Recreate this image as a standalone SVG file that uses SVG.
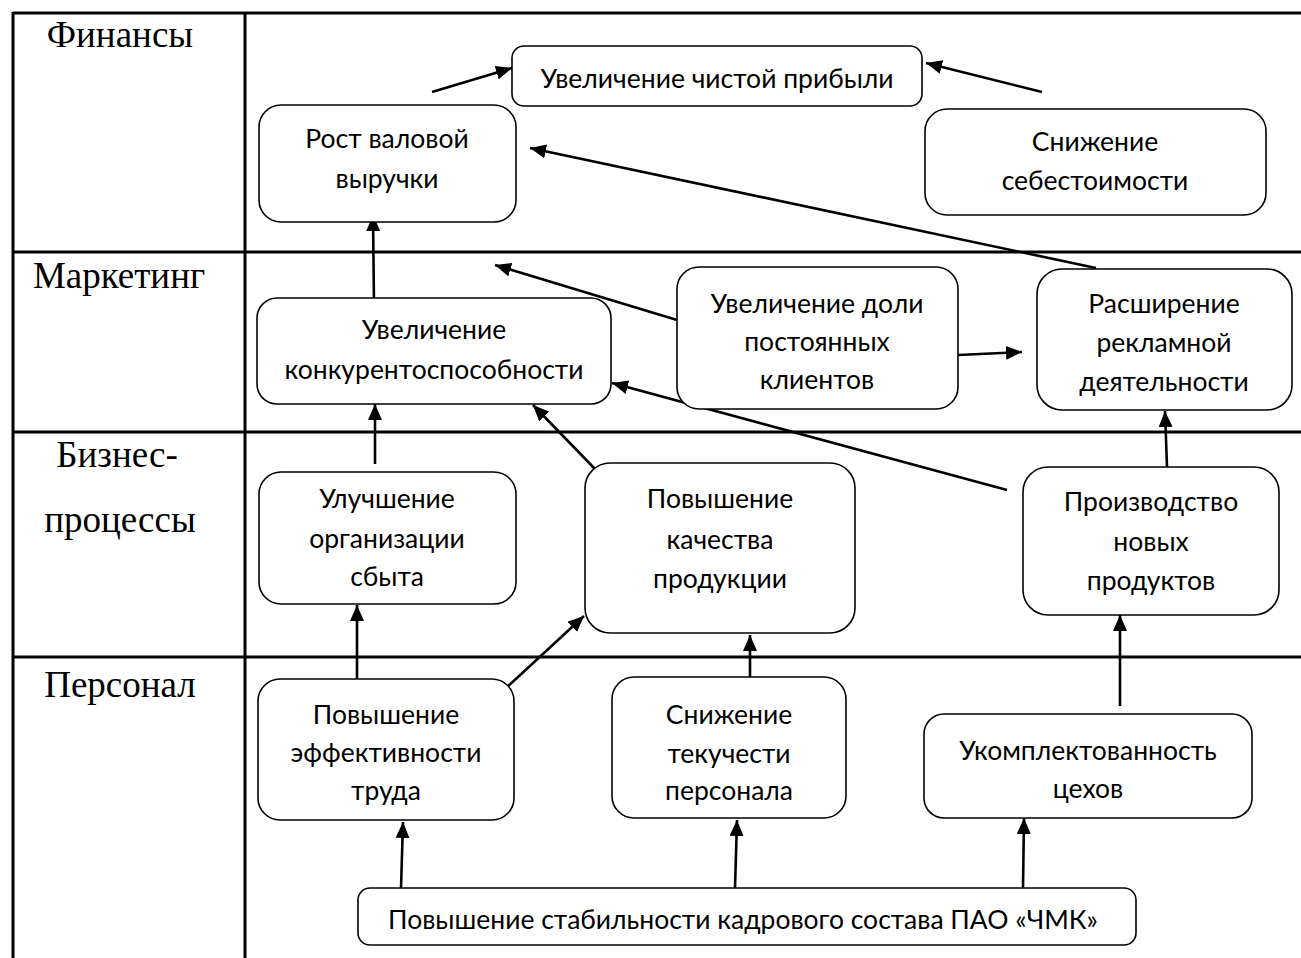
<svg xmlns="http://www.w3.org/2000/svg" width="1301" height="958" viewBox="0 0 1301 958">
<defs>
<marker id="ah" markerUnits="userSpaceOnUse" markerWidth="18" markerHeight="14" refX="16" refY="7" orient="auto">
<path d="M0,0 L16,7 L0,14 Z" fill="#000"/>
</marker>
</defs>
<style>
.grid{stroke:#000;stroke-width:3;fill:none}
.box{fill:#fff;stroke:#000;stroke-width:1.6}
.t{font-family:Lato,"Open Sans",sans-serif;font-size:26.5px;fill:#000;text-anchor:middle}
.lbl{font-family:"Liberation Serif",serif;font-size:37px;fill:#000;text-anchor:middle}
.c{stroke:#000;stroke-width:2.6;fill:none;marker-end:url(#ah)}
</style>
<rect width="1301" height="958" fill="#fff"/>
<g id="table">
<line class="grid" x1="13" y1="13" x2="1301" y2="13"/>
<line class="grid" x1="13" y1="12" x2="13" y2="958"/>
<line class="grid" x1="245" y1="13" x2="245" y2="958"/>
<line class="grid" x1="13" y1="252" x2="1301" y2="252"/>
<line class="grid" x1="13" y1="432" x2="1301" y2="432"/>
<line class="grid" x1="13" y1="657" x2="1301" y2="657"/>
<text class="lbl" x="120" y="47">Финансы</text>
<text class="lbl" x="119" y="288">Маркетинг</text>
<text class="lbl" x="117" y="467">Бизнес-</text>
<text class="lbl" x="120" y="532">процессы</text>
<text class="lbl" x="120" y="697">Персонал</text>
</g>
<g id="connectors">
<line class="c" x1="432" y1="92" x2="512" y2="68"/>
<line class="c" x1="1042" y1="92" x2="926" y2="63"/>
<line class="c" x1="1096" y1="268" x2="530" y2="148"/>
<line class="c" x1="374" y1="304" x2="373" y2="215"/>
<line class="c" x1="677" y1="320" x2="495" y2="265"/>
<line class="c" x1="958" y1="355" x2="1022" y2="352"/>
<line class="c" x1="1007" y1="490" x2="612" y2="383"/>
<line class="c" x1="597" y1="471" x2="533" y2="405"/>
<line class="c" x1="375" y1="464" x2="375" y2="404"/>
<line class="c" x1="1167" y1="467" x2="1165" y2="411"/>
<line class="c" x1="357" y1="681" x2="357" y2="605"/>
<line class="c" x1="506" y1="688" x2="584" y2="616"/>
<line class="c" x1="750" y1="677" x2="750" y2="635"/>
<line class="c" x1="1120" y1="706" x2="1120" y2="615"/>
<line class="c" x1="401" y1="888" x2="403" y2="822"/>
<line class="c" x1="735" y1="888" x2="737" y2="820"/>
<line class="c" x1="1023" y1="888" x2="1024" y2="818"/>
</g>
<g id="n-rost"><rect class="box" x="259" y="105" width="257" height="117" rx="22"/><text class="t" x="387" y="148">Рост валовой</text><text class="t" x="387" y="188">выручки</text></g>
<g id="n-pribyl"><rect class="box" x="512" y="46" width="410" height="60" rx="12"/><text class="t" x="717" y="88">Увеличение чистой прибыли</text></g>
<g id="n-sebest"><rect class="box" x="925" y="109" width="341" height="106" rx="22"/><text class="t" x="1095" y="151">Снижение</text><text class="t" x="1095" y="190">себестоимости</text></g>
<g id="n-konk"><rect class="box" x="257" y="298" width="354" height="106" rx="20"/><text class="t" x="434" y="339">Увеличение</text><text class="t" x="434" y="379">конкурентоспособности</text></g>
<g id="n-doli"><rect class="box" x="677" y="267" width="281" height="142" rx="22"/><text class="t" x="817" y="313">Увеличение доли</text><text class="t" x="817" y="351">постоянных</text><text class="t" x="817" y="389">клиентов</text></g>
<g id="n-reklama"><rect class="box" x="1037" y="269" width="255" height="141" rx="25"/><text class="t" x="1164" y="313">Расширение</text><text class="t" x="1164" y="352">рекламной</text><text class="t" x="1164" y="391">деятельности</text></g>
<g id="n-sbyt"><rect class="box" x="259" y="472" width="257" height="132" rx="22"/><text class="t" x="387" y="508">Улучшение</text><text class="t" x="387" y="548">организации</text><text class="t" x="387" y="586">сбыта</text></g>
<g id="n-kach"><rect class="box" x="585" y="463" width="270" height="170" rx="25"/><text class="t" x="720" y="508">Повышение</text><text class="t" x="720" y="549">качества</text><text class="t" x="720" y="588">продукции</text></g>
<g id="n-proizv"><rect class="box" x="1023" y="467" width="256" height="148" rx="25"/><text class="t" x="1151" y="511">Производство</text><text class="t" x="1151" y="551">новых</text><text class="t" x="1151" y="590">продуктов</text></g>
<g id="n-eff"><rect class="box" x="258" y="679" width="256" height="141" rx="22"/><text class="t" x="386" y="724">Повышение</text><text class="t" x="386" y="762">эффективности</text><text class="t" x="386" y="800">труда</text></g>
<g id="n-tek"><rect class="box" x="612" y="677" width="234" height="141" rx="22"/><text class="t" x="729" y="724">Снижение</text><text class="t" x="729" y="763">текучести</text><text class="t" x="729" y="800">персонала</text></g>
<g id="n-ukompl"><rect class="box" x="924" y="714" width="328" height="104" rx="20"/><text class="t" x="1088" y="760">Укомплектованность</text><text class="t" x="1088" y="798">цехов</text></g>
<g id="n-stab"><rect class="box" x="358" y="888" width="778" height="57" rx="12"/><text class="t" x="743" y="929">Повышение стабильности кадрового состава ПАО «ЧМК»</text></g>
</svg>
